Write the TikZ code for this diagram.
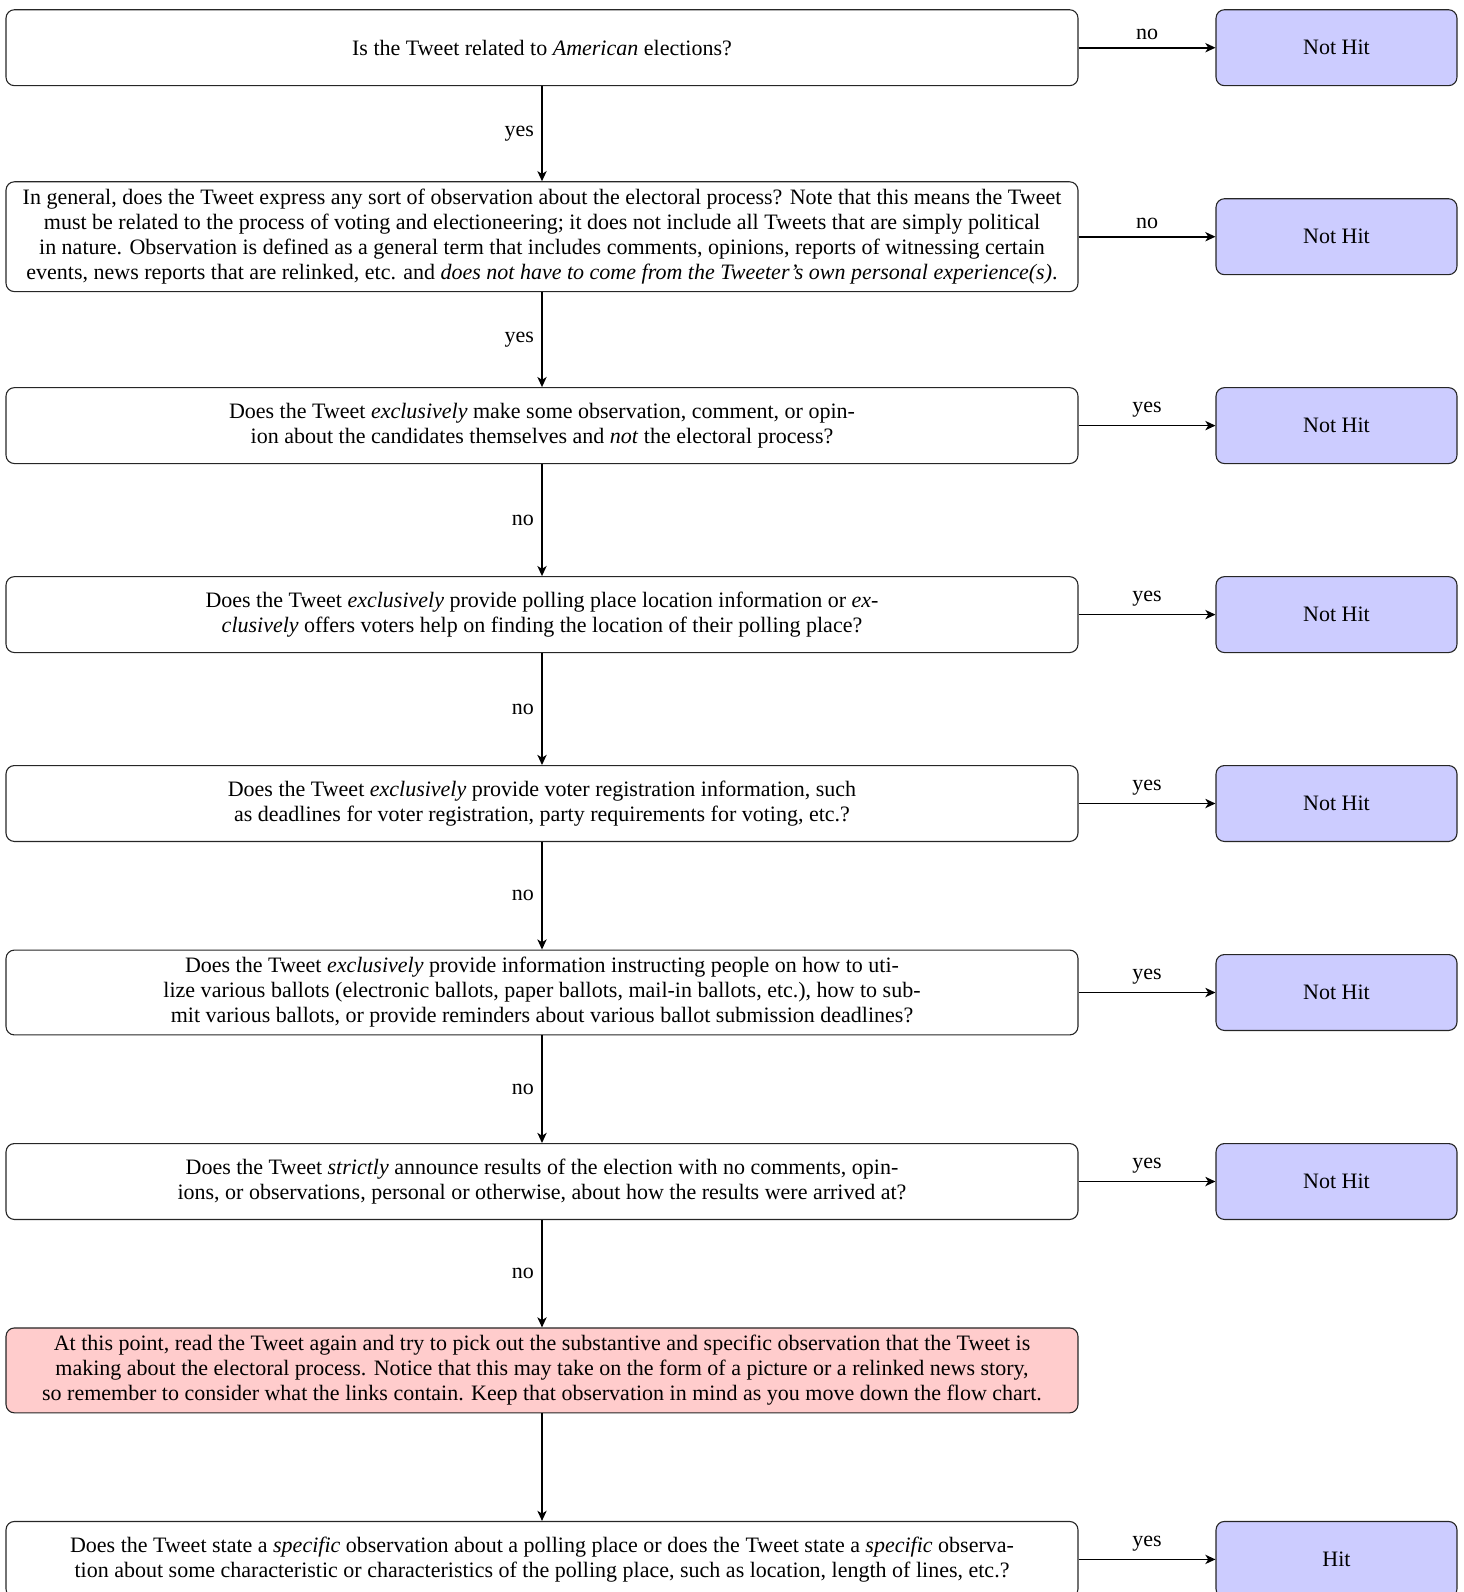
\documentclass[tikz,border=0pt]{standalone}
\usepackage{fontspec}
\setmainfont{Liberation Serif}
\usetikzlibrary{arrows.meta}
\begin{document}
\begin{tikzpicture}[x=0.4545pt,y=-0.4545pt,
  every node/.style={font=\fontsize{10}{11.36}\selectfont},
  qbox/.style={draw=black!85, line width=0.5pt, rounded corners=3.8pt, align=center,
    minimum width=487.2pt, minimum height=34.5pt, inner sep=3.33pt},
  redbox/.style={qbox, fill=red!20},
  endbox/.style={draw=black!85, line width=0.5pt, rounded corners=3.8pt, fill=blue!20,
    minimum width=109.5pt, minimum height=34.5pt},
  flow/.style={-{Stealth[length=4.6pt,width=4.2pt,inset=1.3pt]}, line width=0.75pt},
  lab/.style={font=\fontsize{10}{12}\selectfont}
]
\useasboundingbox (0,0) rectangle (1464,1592);

\def\cx{542}
\def\rx{1336.5}

\node[qbox] (b1) at (\cx,47.7) {Is the Tweet related to \textit{American} elections?};
\node[qbox] (b2) at (\cx,236.7) {In general, does the Tweet express any sort of observation about the electoral process? Note that this means the Tweet\\must be related to the process of voting and electioneering; it does not include all Tweets that are simply political\\in nature. Observation is defined as a general term that includes comments, opinions, reports of witnessing certain\\events, news reports that are relinked, etc. and \textit{does not have to come from the Tweeter's own personal experience(s)}.};
\node[qbox] (b3) at (\cx,425.6) {Does the Tweet \textit{exclusively} make some observation, comment, or opin-\\ion about the candidates themselves and \textit{not} the electoral process?};
\node[qbox] (b4) at (\cx,614.6) {Does the Tweet \textit{exclusively} provide polling place location information or \textit{ex-}\\\textit{clusively} offers voters help on finding the location of their polling place?};
\node[qbox] (b5) at (\cx,803.5) {Does the Tweet \textit{exclusively} provide voter registration information, such\\as deadlines for voter registration, party requirements for voting, etc.?};
\node[qbox] (b6) at (\cx,992.5) {Does the Tweet \textit{exclusively} provide information instructing people on how to uti-\\lize various ballots (electronic ballots, paper ballots, mail-in ballots, etc.), how to sub-\\mit various ballots, or provide reminders about various ballot submission deadlines?};
\node[qbox] (b7) at (\cx,1181.5) {Does the Tweet \textit{strictly} announce results of the election with no comments, opin-\\ions, or observations, personal or otherwise, about how the results were arrived at?};
\node[redbox] (b8) at (\cx,1370.4) {At this point, read the Tweet again and try to pick out the substantive and specific observation that the Tweet is\\making about the electoral process. Notice that this may take on the form of a picture or a relinked news story,\\so remember to consider what the links contain. Keep that observation in mind as you move down the flow chart.};
\node[qbox] (b9) at (\cx,1559.4) {Does the Tweet state a \textit{specific} observation about a polling place or does the Tweet state a \textit{specific} observa-\\tion about some characteristic or characteristics of the polling place, such as location, length of lines, etc.?};

\node[endbox] (e1) at (\rx,47.7) {Not Hit};
\node[endbox] (e2) at (\rx,236.7) {Not Hit};
\node[endbox] (e3) at (\rx,425.6) {Not Hit};
\node[endbox] (e4) at (\rx,614.6) {Not Hit};
\node[endbox] (e5) at (\rx,803.5) {Not Hit};
\node[endbox] (e6) at (\rx,992.5) {Not Hit};
\node[endbox] (e7) at (\rx,1181.5) {Not Hit};
\node[endbox] (e9) at (\rx,1559.4) {Hit};

\draw[flow] (b1) -- node[lab,above] {no} (e1);
\draw[flow] (b2) -- node[lab,above] {no} (e2);
\draw[flow] (b3) -- node[lab,above] {yes} (e3);
\draw[flow] (b4) -- node[lab,above] {yes} (e4);
\draw[flow] (b5) -- node[lab,above] {yes} (e5);
\draw[flow] (b6) -- node[lab,above] {yes} (e6);
\draw[flow] (b7) -- node[lab,above] {yes} (e7);
\draw[flow] (b9) -- node[lab,above] {yes} (e9);

\draw[flow] (b1) -- node[lab,left] {yes} (b2);
\draw[flow] (b2) -- node[lab,left] {yes} (b3);
\draw[flow] (b3) -- node[lab,left] {no} (b4);
\draw[flow] (b4) -- node[lab,left] {no} (b5);
\draw[flow] (b5) -- node[lab,left] {no} (b6);
\draw[flow] (b6) -- node[lab,left] {no} (b7);
\draw[flow] (b7) -- node[lab,left] {no} (b8);
\draw[flow] (b8) -- (b9);
\end{tikzpicture}
\end{document}
